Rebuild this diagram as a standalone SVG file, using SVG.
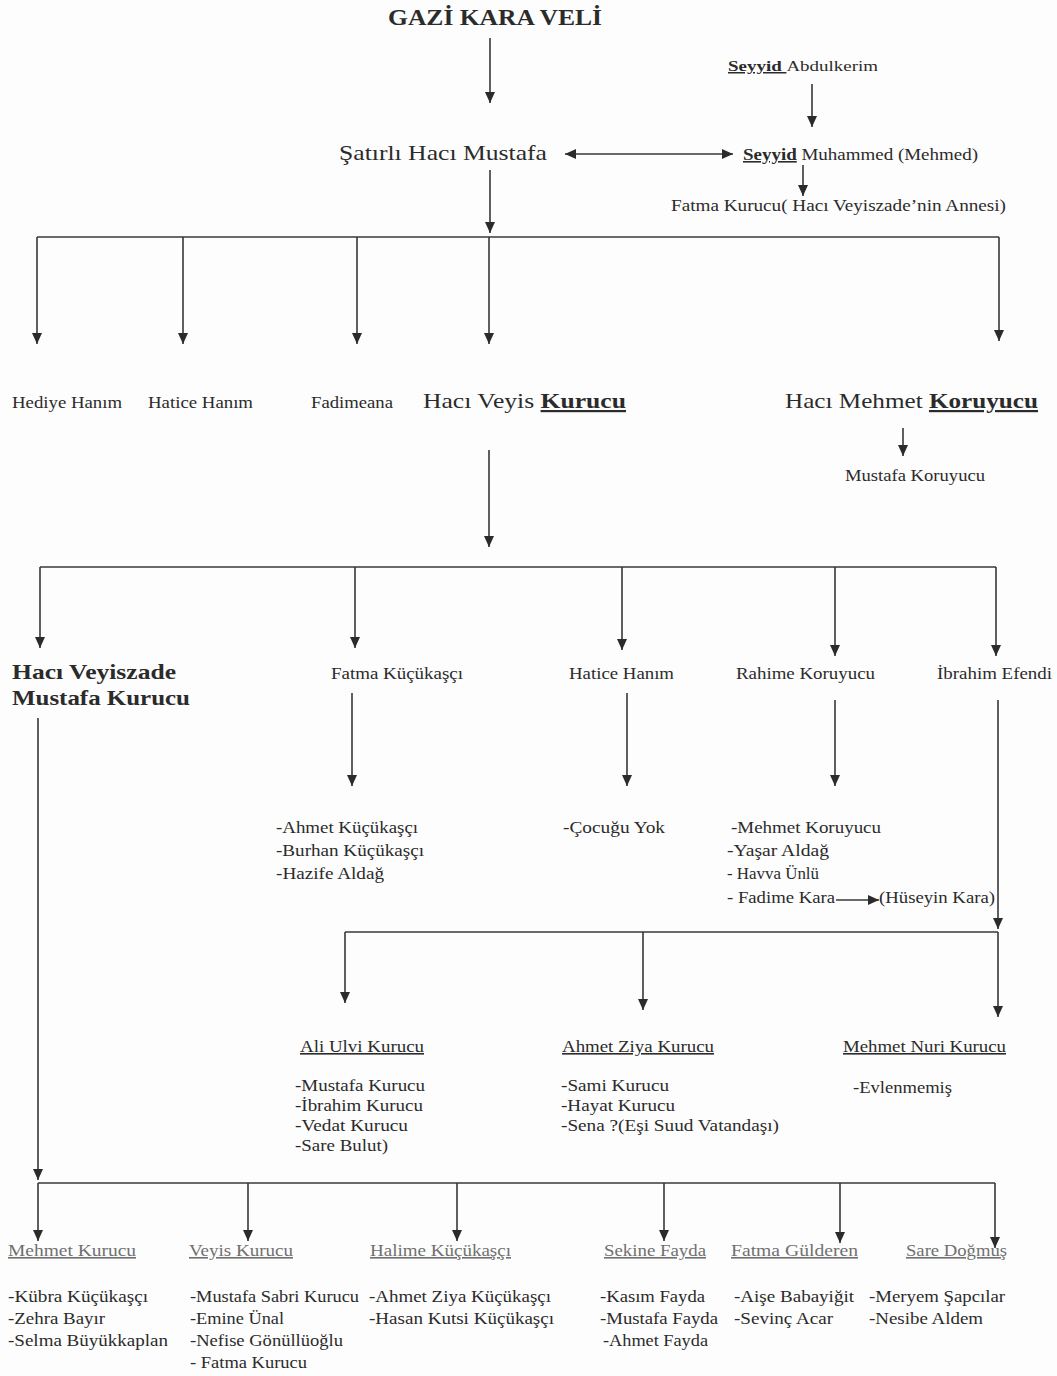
<svg xmlns="http://www.w3.org/2000/svg" width="1057" height="1376" viewBox="0 0 1057 1376">
<defs>
<marker id="ah" viewBox="0 0 11 10" refX="11" refY="5" markerWidth="11" markerHeight="10" markerUnits="userSpaceOnUse" orient="auto-start-reverse">
<path d="M0,0 L11,5 L0,10 z" fill="#2b2b2b"/>
</marker>
<style>
text{font-family:"Liberation Serif","Times New Roman",serif;fill:#2b2b2b;}
.s{font-size:16px;}
.m{font-size:22px;}
.b{font-weight:bold;}
.u{text-decoration:underline;}
.g{fill:#707070;}
.c path{stroke:#383838;stroke-width:1.6;fill:none;}
.a{marker-end:url(#ah);}
</style>
</defs>
<rect width="1057" height="1376" fill="#fdfdfd"/>
<g class="c" id="connectors">
<path class="a" d="M490 38 V103"/>
<path class="a" d="M812 84 V127"/>
<path class="a" d="M565 154 H733" marker-start="url(#ah)"/>
<path class="a" d="M803 165 V196"/>
<path class="a" d="M490 170 V233"/>
<path d="M37 237 H999"/>
<path class="a" d="M37 237 V344"/>
<path class="a" d="M183 237 V344"/>
<path class="a" d="M357 237 V344"/>
<path class="a" d="M489 237 V344"/>
<path class="a" d="M999 237 V341"/>
<path class="a" d="M903 428 V456"/>
<path class="a" d="M489 450 V547"/>
<path d="M40 567 H996"/>
<path class="a" d="M40 567 V648"/>
<path class="a" d="M355 567 V648"/>
<path class="a" d="M622 567 V650"/>
<path class="a" d="M835 567 V656"/>
<path class="a" d="M996 567 V656"/>
<path class="a" d="M352 693 V786"/>
<path class="a" d="M627 693 V786"/>
<path class="a" d="M835 700 V786"/>
<path class="a" d="M998 700 V929"/>
<path class="a" d="M836 900 H879"/>
<path d="M345 932 H998"/>
<path class="a" d="M345 932 V1003"/>
<path class="a" d="M643 932 V1010"/>
<path class="a" d="M998 932 V1017"/>
<path class="a" d="M38 718 V1180"/>
<path d="M38 1183 H995"/>
<path class="a" d="M38 1183 V1241"/>
<path class="a" d="M248 1183 V1241"/>
<path class="a" d="M457 1183 V1241"/>
<path class="a" d="M664 1183 V1241"/>
<path class="a" d="M840 1183 V1243"/>
<path class="a" d="M995 1183 V1248"/>
</g>
<g id="gazi"><text x="388" y="25" font-size="23" class="b" textLength="214" lengthAdjust="spacingAndGlyphs">GAZİ KARA VELİ</text></g>
<g id="abdulkerim"><text x="728" y="71" font-size="15" textLength="150" lengthAdjust="spacingAndGlyphs"><tspan class="b u">Seyyid </tspan>Abdulkerim</text></g>
<g id="satirli"><text x="339" y="160" class="m" textLength="208" lengthAdjust="spacingAndGlyphs">Şatırlı Hacı Mustafa</text></g>
<g id="muhammed"><text x="743" y="160" class="s" textLength="235" lengthAdjust="spacingAndGlyphs"><tspan class="b u">Seyyid</tspan> Muhammed (Mehmed)</text></g>
<g id="fatma-kurucu"><text x="671" y="211" class="s" textLength="335" lengthAdjust="spacingAndGlyphs">Fatma Kurucu( Hacı Veyiszade’nin Annesi)</text></g>
<g id="hediye"><text x="12" y="408" class="s" textLength="110" lengthAdjust="spacingAndGlyphs">Hediye Hanım</text></g>
<g id="hatice1"><text x="148" y="408" class="s" textLength="105" lengthAdjust="spacingAndGlyphs">Hatice Hanım</text></g>
<g id="fadimeana"><text x="311" y="408" class="s" textLength="82" lengthAdjust="spacingAndGlyphs">Fadimeana</text></g>
<g id="haci-veyis"><text x="423" y="408" class="m" textLength="203" lengthAdjust="spacingAndGlyphs">Hacı Veyis <tspan class="b u">Kurucu</tspan></text></g>
<g id="haci-mehmet"><text x="785" y="408" class="m" textLength="253" lengthAdjust="spacingAndGlyphs">Hacı Mehmet <tspan class="b u">Koruyucu</tspan></text></g>
<g id="mustafa-koruyucu"><text x="845" y="481" class="s" textLength="140" lengthAdjust="spacingAndGlyphs">Mustafa Koruyucu</text></g>
<g id="veyiszade"><text x="12" y="679" font-size="21" class="b" textLength="164" lengthAdjust="spacingAndGlyphs">Hacı Veyiszade</text><text x="12" y="705" font-size="21" class="b" textLength="178" lengthAdjust="spacingAndGlyphs">Mustafa Kurucu</text></g>
<g id="fatma-kucukasci"><text x="331" y="679" class="s" textLength="132" lengthAdjust="spacingAndGlyphs">Fatma Küçükaşçı</text></g>
<g id="hatice2"><text x="569" y="679" class="s" textLength="105" lengthAdjust="spacingAndGlyphs">Hatice Hanım</text></g>
<g id="rahime"><text x="736" y="679" class="s" textLength="139" lengthAdjust="spacingAndGlyphs">Rahime Koruyucu</text></g>
<g id="ibrahim"><text x="937" y="679" class="s" textLength="115" lengthAdjust="spacingAndGlyphs">İbrahim Efendi</text></g>
<g id="fatma-children">
<text x="276" y="833" class="s" textLength="142" lengthAdjust="spacingAndGlyphs">-Ahmet Küçükaşçı</text>
<text x="276" y="856" class="s" textLength="148" lengthAdjust="spacingAndGlyphs">-Burhan Küçükaşçı</text>
<text x="276" y="879" class="s" textLength="108" lengthAdjust="spacingAndGlyphs">-Hazife Aldağ</text>
</g>
<g id="hatice-children"><text x="563" y="833" class="s" textLength="102" lengthAdjust="spacingAndGlyphs">-Çocuğu Yok</text></g>
<g id="rahime-children">
<text x="731" y="833" class="s" textLength="150" lengthAdjust="spacingAndGlyphs">-Mehmet Koruyucu</text>
<text x="727" y="856" class="s" textLength="102" lengthAdjust="spacingAndGlyphs">-Yaşar Aldağ</text>
<text x="727" y="879" class="s" textLength="92" lengthAdjust="spacingAndGlyphs">- Havva Ünlü</text>
<text x="727" y="903" class="s" textLength="108" lengthAdjust="spacingAndGlyphs">- Fadime Kara</text>
</g>
<g id="huseyin"><text x="879" y="903" class="s" textLength="116" lengthAdjust="spacingAndGlyphs">(Hüseyin Kara)</text></g>
<g id="ali-ulvi"><text x="300" y="1052" class="s u" textLength="124" lengthAdjust="spacingAndGlyphs">Ali Ulvi Kurucu</text>
<text x="295" y="1091" class="s" textLength="130" lengthAdjust="spacingAndGlyphs">-Mustafa Kurucu</text>
<text x="295" y="1111" class="s" textLength="128" lengthAdjust="spacingAndGlyphs">-İbrahim Kurucu</text>
<text x="295" y="1131" class="s" textLength="113" lengthAdjust="spacingAndGlyphs">-Vedat Kurucu</text>
<text x="295" y="1151" class="s" textLength="93" lengthAdjust="spacingAndGlyphs">-Sare Bulut)</text>
</g>
<g id="ahmet-ziya"><text x="562" y="1052" class="s u" textLength="152" lengthAdjust="spacingAndGlyphs">Ahmet Ziya Kurucu</text>
<text x="561" y="1091" class="s" textLength="108" lengthAdjust="spacingAndGlyphs">-Sami Kurucu</text>
<text x="561" y="1111" class="s" textLength="114" lengthAdjust="spacingAndGlyphs">-Hayat Kurucu</text>
<text x="561" y="1131" class="s" textLength="218" lengthAdjust="spacingAndGlyphs">-Sena ?(Eşi Suud Vatandaşı)</text>
</g>
<g id="mehmet-nuri"><text x="843" y="1052" class="s u" textLength="163" lengthAdjust="spacingAndGlyphs">Mehmet Nuri Kurucu</text>
<text x="853" y="1093" class="s" textLength="99" lengthAdjust="spacingAndGlyphs">-Evlenmemiş</text>
</g>
<g id="mehmet-kurucu"><text x="8" y="1256" class="s u g" textLength="128" lengthAdjust="spacingAndGlyphs">Mehmet Kurucu</text>
<text x="8" y="1302" class="s" textLength="140" lengthAdjust="spacingAndGlyphs">-Kübra Küçükaşçı</text>
<text x="8" y="1324" class="s" textLength="97" lengthAdjust="spacingAndGlyphs">-Zehra Bayır</text>
<text x="8" y="1346" class="s" textLength="160" lengthAdjust="spacingAndGlyphs">-Selma Büyükkaplan</text>
</g>
<g id="veyis-kurucu"><text x="189" y="1256" class="s u g" textLength="104" lengthAdjust="spacingAndGlyphs">Veyis Kurucu</text>
<text x="190" y="1302" class="s" textLength="169" lengthAdjust="spacingAndGlyphs">-Mustafa Sabri Kurucu</text>
<text x="190" y="1324" class="s" textLength="94" lengthAdjust="spacingAndGlyphs">-Emine Ünal</text>
<text x="190" y="1346" class="s" textLength="153" lengthAdjust="spacingAndGlyphs">-Nefise Gönüllüoğlu</text>
<text x="190" y="1368" class="s" textLength="117" lengthAdjust="spacingAndGlyphs">- Fatma Kurucu</text>
</g>
<g id="halime"><text x="370" y="1256" class="s u g" textLength="141" lengthAdjust="spacingAndGlyphs">Halime Küçükaşçı</text>
<text x="369" y="1302" class="s" textLength="182" lengthAdjust="spacingAndGlyphs">-Ahmet Ziya Küçükaşçı</text>
<text x="369" y="1324" class="s" textLength="185" lengthAdjust="spacingAndGlyphs">-Hasan Kutsi Küçükaşçı</text>
</g>
<g id="sekine"><text x="604" y="1256" class="s u g" textLength="102" lengthAdjust="spacingAndGlyphs">Sekine Fayda</text>
<text x="600" y="1302" class="s" textLength="105" lengthAdjust="spacingAndGlyphs">-Kasım Fayda</text>
<text x="600" y="1324" class="s" textLength="118" lengthAdjust="spacingAndGlyphs">-Mustafa Fayda</text>
<text x="603" y="1346" class="s" textLength="105" lengthAdjust="spacingAndGlyphs">-Ahmet Fayda</text>
</g>
<g id="fatma-gulderen"><text x="731" y="1256" class="s u g" textLength="127" lengthAdjust="spacingAndGlyphs">Fatma Gülderen</text>
<text x="734" y="1302" class="s" textLength="120" lengthAdjust="spacingAndGlyphs">-Aişe Babayiğit</text>
<text x="734" y="1324" class="s" textLength="99" lengthAdjust="spacingAndGlyphs">-Sevinç Acar</text>
</g>
<g id="sare"><text x="906" y="1256" class="s u g" textLength="101" lengthAdjust="spacingAndGlyphs">Sare Doğmuş</text>
<text x="869" y="1302" class="s" textLength="136" lengthAdjust="spacingAndGlyphs">-Meryem Şapcılar</text>
<text x="869" y="1324" class="s" textLength="114" lengthAdjust="spacingAndGlyphs">-Nesibe Aldem</text>
</g>
</svg>
